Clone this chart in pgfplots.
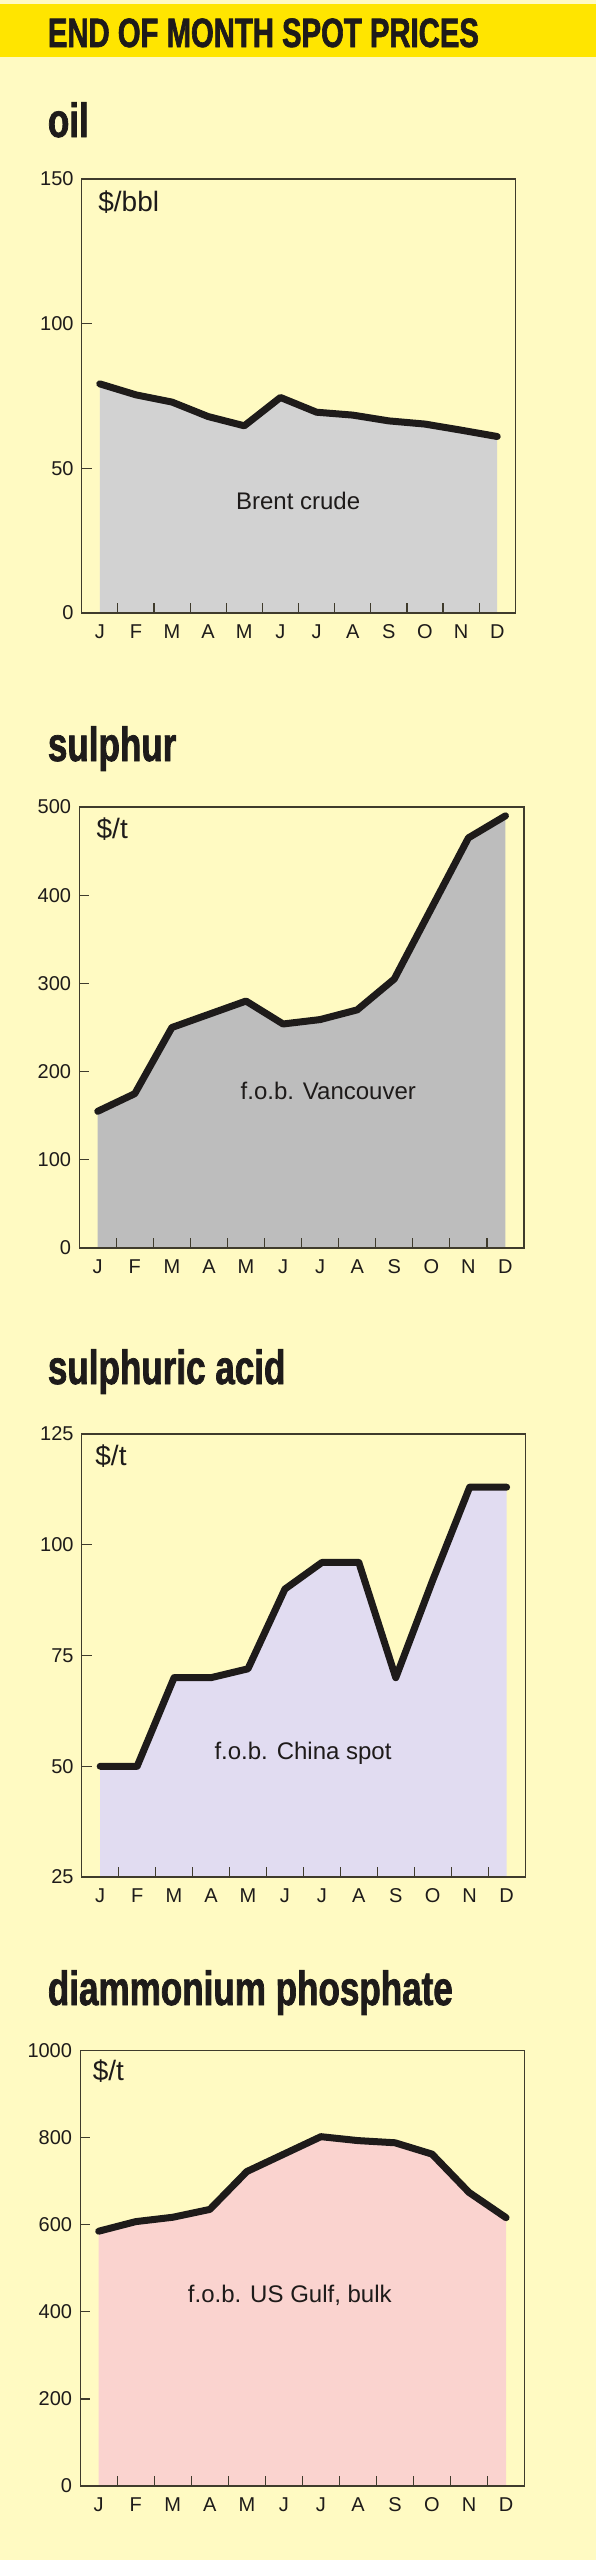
\documentclass[border=0pt]{standalone}
\usepackage{fontspec}
\usepackage{pgfplots}
\pgfplotsset{compat=1.18}
\setmainfont{Liberation Sans}
\newfontfamily\bandfont[FakeStretch=0.714,BoldFeatures={FakeBold=1.5}]{Liberation Sans}
\newfontfamily\headfont[FakeStretch=0.73,BoldFeatures={FakeBold=1.5}]{Liberation Sans}

\definecolor{band}{HTML}{FFE500}
\definecolor{paper}{HTML}{FFFAC2}
\definecolor{ink}{HTML}{1E1B1A}
\definecolor{frame}{HTML}{3F3B2C}
\definecolor{oilfill}{HTML}{D2D2D2}
\definecolor{sfill}{HTML}{BDBDBD}
\definecolor{acidfill}{HTML}{E1DCF1}
\definecolor{dapfill}{HTML}{FAD3CF}

\newcommand\tickfont{\fontsize{10pt}{11pt}\selectfont}
\newcommand\unitfont{\fontsize{14pt}{15pt}\selectfont}
\newcommand\notefont{\fontsize{12pt}{13pt}\selectfont}
\newcommand\paneltitle{\headfont\bfseries\fontsize{24pt}{26pt}\selectfont}

\pgfplotsset{
  panel/.style={
    scale only axis,
    axis on top,
    anchor=north west,
    xmin=-0.5, xmax=11.5,
    xtick={0,...,11},
    xticklabels={J,F,M,A,M,J,J,A,S,O,N,D},
    minor xtick={0.5,1.5,...,10.5},
    major x tick style={draw opacity=0},
    tick align=inside,
    tick pos=left,
    major tick length=5pt,
    minor tick length=5pt,
    axis line style={draw=frame, line width=0.6pt},
    every tick/.style={draw=frame, line width=0.6pt},
    every tick label/.append style={font=\tickfont, text=ink, inner sep=0pt},
    xticklabel style={yshift=-5.5pt},
    yticklabel style={xshift=-3.9pt},
  },
  price/.style={draw=ink, line width=3.5pt, line cap=round, line join=round, mark=none},
  area/.style={draw=none, mark=none},
}

\begin{document}
\begin{tikzpicture}
% page and heading band
\fill[paper] (0,0) rectangle (298pt,-1280pt);
\fill[band] (0,-2pt) rectangle (298pt,-28.5pt);
\node[anchor=base west, inner sep=0pt, text=ink] at (23.75pt,-23.5pt)
  {\bandfont\bfseries\fontsize{20.5pt}{22pt}\selectfont END OF MONTH SPOT PRICES};

% ---------------- oil ----------------
\node[anchor=base west, inner sep=0pt, text=ink] at (23.75pt,-68.5pt) {\paneltitle oil};
\begin{axis}[panel, at={(40.85pt,-89.5pt)}, width=216.8pt, height=217pt,
  ymin=0, ymax=150, ytick={0,50,100,150}, yticklabels={0,50,100,150}]
  \addplot[area, fill=oilfill] coordinates {
    (0,79.2) (1,75.4) (2,72.9) (3,67.9) (4,64.7) (5,74.5)
    (6,69.4) (7,68.4) (8,66.4) (9,65.3) (10,63.2) (11,61.0)} \closedcycle;
  \addplot[price] coordinates {
    (0,79.2) (1,75.4) (2,72.9) (3,67.9) (4,64.7) (5,74.5)
    (6,69.4) (7,68.4) (8,66.4) (9,65.3) (10,63.2) (11,61.0)};
  \node[anchor=base west, inner sep=0pt, text=ink] at (axis cs:-0.05,138.7) {\unitfont \$/bbl};
  \node[anchor=base, inner sep=0pt, text=ink] at (axis cs:5.49,35.7) {\notefont Brent crude};
\end{axis}

% ---------------- sulphur ----------------
\node[anchor=base west, inner sep=0pt, text=ink] at (23.75pt,-380.5pt) {\paneltitle sulphur};
\begin{axis}[panel, at={(39.6pt,-403.5pt)}, width=222.4pt, height=220.5pt,
  ymin=0, ymax=500, ytick={0,100,200,300,400,500}, yticklabels={0,100,200,300,400,500}]
  \addplot[area, fill=sfill] coordinates {
    (0,155) (1,175) (2,250) (3,265) (4,280) (5,254)
    (6,259) (7,270) (8,305) (9,385) (10,465) (11,490)} \closedcycle;
  \addplot[price] coordinates {
    (0,155) (1,175) (2,250) (3,265) (4,280) (5,254)
    (6,259) (7,270) (8,305) (9,385) (10,465) (11,490)};
  \node[anchor=base west, inner sep=0pt, text=ink] at (axis cs:-0.04,464.8) {\unitfont \$/t};
  \node[anchor=base, inner sep=0pt, text=ink] at (axis cs:6.22,168.4) {\notefont f.o.b. Vancouver};
\end{axis}

% ---------------- sulphuric acid ----------------
\node[anchor=base west, inner sep=0pt, text=ink] at (23.75pt,-692pt) {\paneltitle sulphuric acid};
\begin{axis}[panel, at={(40.85pt,-717pt)}, width=221.7pt, height=221.5pt,
  ymin=25, ymax=125, ytick={25,50,75,100,125}, yticklabels={25,50,75,100,125}]
  \addplot[area, fill=acidfill] coordinates {
    (0,50) (1,50) (2,70) (3,70) (4,72) (5,90)
    (6,96) (7,96) (8,70) (9,92) (10,113) (11,113)} \closedcycle;
  \addplot[price] coordinates {
    (0,50) (1,50) (2,70) (3,70) (4,72) (5,90)
    (6,96) (7,96) (8,70) (9,92) (10,113) (11,113)};
  \node[anchor=base west, inner sep=0pt, text=ink] at (axis cs:-0.14,117.8) {\unitfont \$/t};
  \node[anchor=base, inner sep=0pt, text=ink] at (axis cs:5.49,51.5) {\notefont f.o.b. China spot};
\end{axis}

% ---------------- diammonium phosphate ----------------
\node[anchor=base west, inner sep=0pt, text=ink] at (23.75pt,-1002.5pt) {\paneltitle diammonium phosphate};
\begin{axis}[panel, at={(40.1pt,-1025.2pt)}, width=222.2pt, height=217.8pt,
  ymin=0, ymax=1000, ytick={0,200,400,600,800,1000}, yticklabels={0,200,400,600,800,1000}]
  \addplot[area, fill=dapfill] coordinates {
    (0,585) (1,607) (2,617) (3,635) (4,722) (5,762)
    (6,802) (7,793) (8,788) (9,762) (10,674) (11,616)} \closedcycle;
  \addplot[price] coordinates {
    (0,585) (1,607) (2,617) (3,635) (4,722) (5,762)
    (6,802) (7,793) (8,788) (9,762) (10,674) (11,616)};
  \node[anchor=base west, inner sep=0pt, text=ink] at (axis cs:-0.17,932) {\unitfont \$/t};
  \node[anchor=base, inner sep=0pt, text=ink] at (axis cs:5.16,421.8) {\notefont f.o.b. US Gulf, bulk};
\end{axis}
\end{tikzpicture}
\end{document}
